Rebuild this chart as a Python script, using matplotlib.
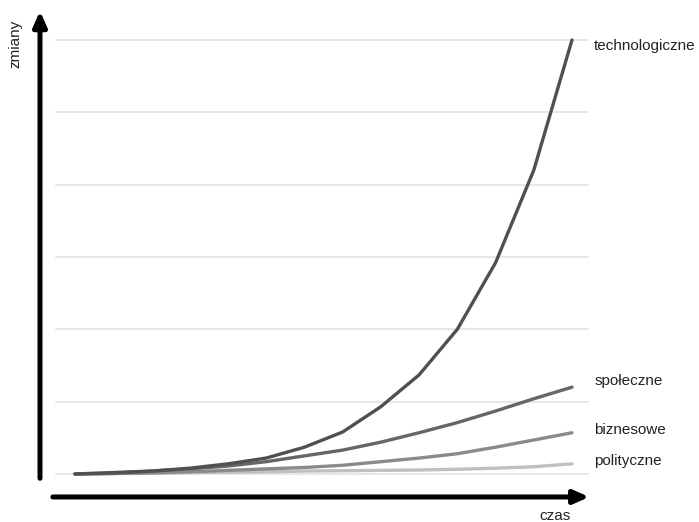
import matplotlib.pyplot as plt
import numpy as np

plt.rcParams['font.family'] = ['Liberation Sans', 'DejaVu Sans']

###############################################################################
# data (one grid step = 1 unit)

steps = np.arange(14)
technologiczne = [0, 0.02, 0.04, 0.08, 0.14, 0.22, 0.37, 0.58, 0.93, 1.37,
                  2.0, 2.92, 4.2, 6.0]
spoleczne = [0, 0.01, 0.04, 0.07, 0.11, 0.17, 0.25, 0.33, 0.44, 0.57,
             0.71, 0.87, 1.04, 1.2]
biznesowe = [0, 0.007, 0.015, 0.03, 0.05, 0.07, 0.09, 0.12, 0.17, 0.22,
             0.28, 0.37, 0.47, 0.57]
polityczne = [0, 0.005, 0.01, 0.02, 0.025, 0.03, 0.04, 0.045, 0.05, 0.055,
              0.065, 0.08, 0.1, 0.14]

series = [('technologiczne', technologiczne, '#505050', 5.92),
          ('społeczne', spoleczne, '#666666', 1.29),
          ('biznesowe', biznesowe, '#8a8a8a', 0.61),
          ('polityczne', polityczne, '#c0c0c0', 0.18)]

###############################################################################
# plot

fig = plt.figure(figsize=(6.99, 5.22), dpi=100)
ax = fig.add_axes([0, 0, 1, 1])
ax.set_xlim(-1.962, 16.322)
ax.set_ylim(-0.664, 6.553)
ax.axis('off')

# light horizontal gridlines
for g in range(7):
    ax.plot([-0.5, 13.42], [g, g], color='#e3e3e3', lw=1.2, zorder=1)

# the curves, lightest first so the dark one sits on top
for name, vals, col, ly in series[::-1]:
    ax.plot(steps, vals, color=col, lw=2.4, solid_capstyle='round', zorder=3)
for name, vals, col, ly in series:
    ax.text(13.58, ly, name, fontsize=11, va='center', ha='left',
            color='#222222')

# axis arrows
arrow = dict(arrowstyle='-|>,head_length=0.45,head_width=0.2', lw=3.6,
             color='black', shrinkA=0, shrinkB=0, mutation_scale=20)
ax.annotate('', xy=(-0.916, 6.40), xytext=(-0.916, -0.06), arrowprops=arrow)
ax.annotate('', xy=(13.45, -0.318), xytext=(-0.58, -0.318), arrowprops=arrow)

ax.text(-1.57, 5.94, 'zmiany', rotation=90, fontsize=11, ha='center',
        va='center', color='#222222')
ax.text(12.56, -0.58, 'czas', fontsize=11, ha='center', va='center',
        color='#222222')

plt.savefig('out.png', dpi=100)
